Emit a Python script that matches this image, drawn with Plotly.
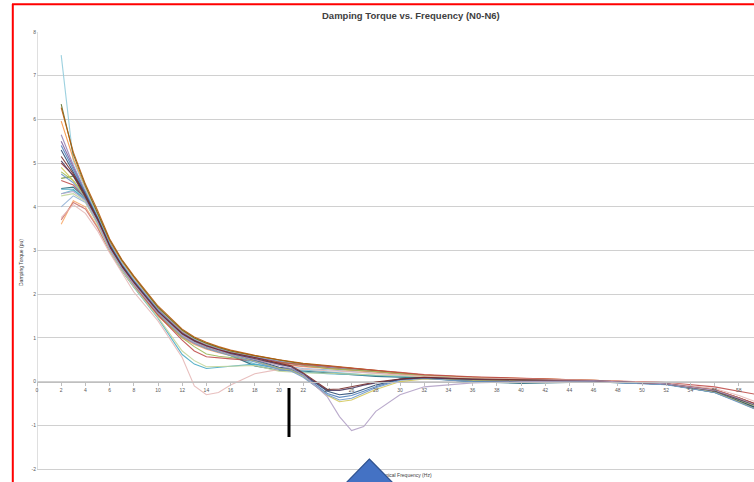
import plotly.graph_objects as go

# Frequency points (Hz) shared by every curve
freq = [2, 3, 4, 5, 6, 7, 8, 10, 12, 13, 14, 15, 16, 18, 20, 21, 22, 24, 25, 26,
        27, 28, 30, 32, 36, 40, 46, 52, 56, 58, 60]

# Damping torque (pu) per case, with its line colour
cases = [
    ("#95B3D7", [4.0, 4.25, 4.1, 3.62, 3.03, 2.6, 2.22, 1.56, 1.06, 0.9, 0.78, 0.69, 0.62, 0.5, 0.38, 0.34, 0.3, 0.27, 0.25, 0.23, 0.21, 0.19, 0.15, 0.11, 0.05, 0.02, 0.01, -0.06, -0.23, -0.44, -0.66]),
    ("#6FBDD1", [4.3, 4.38, 4.18, 3.68, 3.08, 2.64, 2.26, 1.6, 1.1, 0.94, 0.82, 0.72, 0.62, 0.4, 0.3, 0.29, 0.27, 0.22, 0.2, 0.18, 0.16, 0.14, 0.12, 0.09, 0.02, -0.02, 0.0, -0.06, -0.24, -0.45, -0.68]),
    ("#276A7C", [4.42, 4.45, 4.2, 3.7, 3.1, 2.65, 2.27, 1.6, 1.1, 0.93, 0.8, 0.7, 0.6, 0.36, 0.26, 0.26, 0.24, 0.2, 0.18, 0.16, 0.14, 0.12, 0.1, 0.08, 0.0, -0.04, -0.01, -0.06, -0.25, -0.46, -0.7]),
    ("#76923C", [4.65, 4.7, 4.35, 3.8, 3.17, 2.7, 2.32, 1.65, 1.14, 0.97, 0.85, 0.76, 0.68, 0.57, 0.47, 0.43, 0.39, 0.35, 0.32, 0.3, 0.27, 0.25, 0.19, 0.14, 0.09, 0.06, 0.02, -0.05, -0.21, -0.41, -0.63]),
    ("#953735", [5.0, 4.72, 4.26, 3.72, 3.1, 2.66, 2.28, 1.62, 1.1, 0.94, 0.82, 0.73, 0.66, 0.55, 0.45, 0.41, 0.38, 0.33, 0.3, 0.28, 0.25, 0.23, 0.18, 0.13, 0.08, 0.05, 0.02, -0.05, -0.19, -0.37, -0.58]),
    ("#8064A2", [5.5, 4.9, 4.32, 3.78, 3.16, 2.7, 2.32, 1.64, 1.12, 0.95, 0.83, 0.74, 0.66, 0.56, 0.46, 0.42, 0.38, 0.34, 0.31, 0.28, 0.26, 0.24, 0.18, 0.13, 0.08, 0.05, 0.01, -0.06, -0.22, -0.43, -0.66]),
    ("#9983B5", [5.65, 4.95, 4.35, 3.8, 3.18, 2.72, 2.33, 1.66, 1.14, 0.97, 0.85, 0.76, 0.68, 0.57, 0.47, 0.43, 0.39, 0.34, 0.31, 0.28, 0.26, 0.24, 0.18, 0.13, 0.08, 0.05, 0.01, -0.06, -0.22, -0.42, -0.65]),
    ("#93CDDD", [7.47, 5.05, 4.4, 3.8, 3.15, 2.72, 2.35, 1.68, 1.16, 0.98, 0.86, 0.77, 0.69, 0.58, 0.48, 0.44, 0.4, 0.35, 0.32, 0.29, 0.27, 0.25, 0.19, 0.14, 0.09, 0.06, 0.02, -0.05, -0.2, -0.38, -0.6]),
    ("#F79646", [5.96, 5.1, 4.45, 3.86, 3.22, 2.76, 2.38, 1.7, 1.17, 1.0, 0.87, 0.78, 0.7, 0.59, 0.49, 0.45, 0.41, 0.36, 0.33, 0.3, 0.28, 0.25, 0.2, 0.15, 0.1, 0.07, 0.03, -0.04, -0.2, -0.4, -0.62]),
    ("#5F7530", [6.35, 5.2, 4.48, 3.88, 3.24, 2.78, 2.4, 1.7, 1.18, 1.0, 0.88, 0.78, 0.7, 0.59, 0.49, 0.45, 0.41, 0.36, 0.33, 0.3, 0.27, 0.25, 0.19, 0.14, 0.09, 0.06, 0.02, -0.05, -0.22, -0.42, -0.66]),
    ("#B65708", [6.27, 5.25, 4.52, 3.92, 3.27, 2.8, 2.42, 1.73, 1.2, 1.02, 0.9, 0.8, 0.72, 0.6, 0.5, 0.46, 0.42, 0.37, 0.34, 0.31, 0.28, 0.26, 0.2, 0.15, 0.1, 0.07, 0.03, -0.04, -0.19, -0.37, -0.58]),
    ("#F9AB6B", [3.6, 4.14, 4.0, 3.55, 3.0, 2.56, 2.18, 1.5, 1.0, 0.85, 0.74, 0.66, 0.6, 0.5, 0.4, 0.37, 0.34, 0.3, 0.28, 0.26, 0.24, 0.22, 0.17, 0.13, 0.08, 0.05, 0.02, -0.05, -0.2, -0.4, -0.62]),
    ("#CD7371", [3.7, 4.1, 3.95, 3.52, 2.98, 2.54, 2.17, 1.52, 1.02, 0.87, 0.76, 0.68, 0.62, 0.52, 0.42, 0.38, 0.35, 0.31, 0.29, 0.27, 0.25, 0.23, 0.18, 0.14, 0.08, 0.05, 0.02, -0.04, -0.18, -0.36, -0.56]),
    ("#9BBB59", [4.8, 4.6, 4.25, 3.7, 3.08, 2.62, 2.24, 1.55, 1.0, 0.8, 0.63, 0.58, 0.55, 0.5, 0.44, 0.41, 0.38, 0.3, 0.28, 0.27, 0.25, 0.23, 0.18, 0.14, 0.08, 0.05, 0.02, -0.05, -0.2, -0.4, -0.62]),
    ("#C0504D", [4.6, 4.5, 4.2, 3.68, 3.06, 2.6, 2.22, 1.52, 0.95, 0.7, 0.57, 0.54, 0.52, 0.48, 0.43, 0.41, 0.39, 0.35, 0.33, 0.3, 0.28, 0.26, 0.21, 0.16, 0.11, 0.08, 0.04, -0.02, -0.12, -0.22, -0.32]),
    ("#4BACC6", [4.4, 4.4, 4.15, 3.62, 3.02, 2.55, 2.16, 1.45, 0.62, 0.4, 0.3, 0.32, 0.35, 0.4, 0.3, 0.27, 0.22, 0.18, 0.17, 0.16, 0.15, 0.14, 0.12, 0.1, 0.04, 0.0, 0.01, -0.06, -0.24, -0.45, -0.68]),
    ("#C3D69B", [4.25, 4.3, 4.12, 3.6, 3.0, 2.55, 2.17, 1.47, 0.7, 0.48, 0.34, 0.34, 0.35, 0.37, 0.24, 0.22, 0.2, 0.19, 0.18, 0.18, 0.17, 0.16, 0.14, 0.11, 0.06, 0.03, 0.02, -0.05, -0.22, -0.42, -0.64]),
    ("#E6B9B8", [3.75, 4.05, 3.85, 3.45, 2.95, 2.5, 2.05, 1.39, 0.55, -0.1, -0.3, -0.25, -0.08, 0.18, 0.28, 0.3, 0.28, 0.25, 0.24, 0.22, 0.2, 0.19, 0.15, 0.12, 0.08, 0.06, 0.03, -0.03, -0.16, -0.32, -0.52]),
    ("#4F81BD", [5.4, 4.85, 4.3, 3.76, 3.14, 2.68, 2.3, 1.62, 1.1, 0.93, 0.8, 0.7, 0.62, 0.48, 0.3, 0.27, 0.14, -0.27, -0.36, -0.32, -0.22, -0.12, 0.05, 0.08, 0.01, -0.01, 0.0, -0.06, -0.24, -0.45, -0.68]),
    ("#2C4D75", [5.3, 4.8, 4.28, 3.74, 3.12, 2.66, 2.28, 1.6, 1.08, 0.92, 0.8, 0.71, 0.63, 0.5, 0.33, 0.3, 0.16, -0.22, -0.3, -0.27, -0.17, -0.08, 0.06, 0.09, 0.02, 0.0, 0.01, -0.06, -0.23, -0.44, -0.66]),
    ("#D4C85A", [4.9, 4.6, 4.2, 3.68, 3.07, 2.62, 2.25, 1.58, 1.06, 0.9, 0.78, 0.69, 0.6, 0.46, 0.3, 0.26, 0.12, -0.32, -0.46, -0.42, -0.3, -0.18, 0.0, 0.06, 0.03, 0.02, 0.01, -0.06, -0.24, -0.46, -0.7]),
    ("#729ACA", [4.75, 4.55, 4.18, 3.66, 3.05, 2.6, 2.24, 1.56, 1.04, 0.88, 0.76, 0.67, 0.59, 0.45, 0.28, 0.24, 0.1, -0.3, -0.42, -0.38, -0.26, -0.14, 0.03, 0.07, 0.0, -0.02, 0.0, -0.07, -0.25, -0.47, -0.7]),
    ("#4D3B62", [5.05, 4.7, 4.22, 3.7, 3.08, 2.63, 2.26, 1.58, 1.08, 0.92, 0.8, 0.71, 0.64, 0.53, 0.4, 0.34, 0.18, -0.2, -0.2, -0.15, -0.08, -0.03, 0.05, 0.09, 0.05, 0.03, 0.02, -0.05, -0.21, -0.4, -0.6]),
    ("#772C2A", [5.15, 4.75, 4.25, 3.72, 3.1, 2.65, 2.27, 1.6, 1.1, 0.94, 0.82, 0.73, 0.66, 0.55, 0.42, 0.36, 0.2, -0.18, -0.17, -0.12, -0.06, -0.01, 0.06, 0.1, 0.06, 0.04, 0.02, -0.05, -0.2, -0.38, -0.58]),
    ("#B3A2C7", [4.3, 4.35, 4.15, 3.65, 3.04, 2.6, 2.23, 1.57, 1.06, 0.9, 0.79, 0.7, 0.62, 0.5, 0.36, 0.3, 0.16, -0.35, -0.8, -1.12, -1.03, -0.68, -0.3, -0.12, -0.03, 0.0, 0.02, -0.05, -0.2, -0.38, -0.6]),
]

x_ticks = list(range(0, 60, 2))
y_ticks = list(range(-2, 9))

# Canvas geometry: value 8 sits at y=32 px and -2 at y=469 px; the axes run on
# to the bottom edge so the horizontal caption can live inside the plot layer.
W, H = 754, 482
ML, MR, MT, MB = 37, 0, 32, 0
PW, PH = W - ML - MR, H - MT - MB
PX_PER_UNIT_X = 12.1
PX_PER_UNIT_Y = (469 - MT) / 10
X_MAX = PW / PX_PER_UNIT_X
Y_TOP = 8
Y_LOW = Y_TOP - PH / PX_PER_UNIT_Y
GRID_MIN = -2


def px_x(px):
    return (px - ML) / PW


def px_y(py):
    return (H - MB - py) / PH


def data_x(px):
    return (px - ML) / PX_PER_UNIT_X


def data_y(py):
    return Y_TOP - (py - MT) / PX_PER_UNIT_Y


fig = go.Figure()
for color, vals in cases:
    fig.add_trace(go.Scatter(x=freq, y=vals, mode="lines",
                             line=dict(color=color, width=1.1),
                             opacity=0.9, hoverinfo="skip"))

# Horizontal axis caption, drawn as trace text so the arrow shape can sit on top of it
fig.add_trace(go.Scatter(
    x=[data_x(401)], y=[data_y(476)],
    mode="text", text=["Mechanical Frequency (Hz)"],
    textfont=dict(family="Liberation Sans", size=5, color="#404040"),
    cliponaxis=False, hoverinfo="skip"))

tick_font = dict(family="Liberation Sans", size=5, color="#595959")

fig.update_layout(
    width=W, height=H,
    margin=dict(l=ML, r=MR, t=MT, b=MB, autoexpand=False),
    paper_bgcolor="white", plot_bgcolor="white",
    showlegend=False,
    xaxis=dict(range=[0, X_MAX], tickvals=x_ticks, ticktext=[str(v) for v in x_ticks],
               anchor="free", position=(0 - Y_LOW) / (Y_TOP - Y_LOW),
               showgrid=False, zeroline=False, showline=True, linecolor="#BFBFBF",
               linewidth=1, ticks="outside", ticklen=3, tickcolor="#BFBFBF",
               tickfont=tick_font),
    yaxis=dict(range=[Y_LOW, Y_TOP],
               tickvals=y_ticks, ticktext=[str(v) for v in y_ticks],
               showgrid=True, gridcolor="#D0D0D0", gridwidth=1, zeroline=False,
               showline=False, ticks="", tickfont=tick_font),
    annotations=[
        dict(text="<b>Damping Torque vs. Frequency (N0-N6)</b>", xref="paper", yref="paper",
             x=px_x(411), y=px_y(15), showarrow=False, xanchor="center", yanchor="middle",
             font=dict(family="Liberation Sans", size=9.5, color="#404040")),
        dict(text="Damping Torque (pu)", xref="paper", yref="paper",
             x=px_x(21), y=px_y(263), showarrow=False, textangle=-90,
             xanchor="center", yanchor="middle",
             font=dict(family="Liberation Sans", size=5, color="#404040")),
    ],
)

# Vertical axis line spanning the gridded range only
fig.add_shape(type="line", xref="x", yref="y", layer="below",
              x0=0, x1=0, y0=GRID_MIN, y1=Y_TOP,
              line=dict(color="#BFBFBF", width=1))

# Red frame around the chart area
fig.add_shape(type="line", xref="paper", yref="paper", layer="above",
              x0=px_x(12), x1=px_x(760), y0=px_y(4.3), y1=px_y(4.3),
              line=dict(color="#FF0000", width=2))
fig.add_shape(type="line", xref="paper", yref="paper", layer="above",
              x0=px_x(12.8), x1=px_x(12.8), y0=px_y(4), y1=px_y(490),
              line=dict(color="#FF0000", width=2))

# Black marker bar
fig.add_shape(type="line", xref="paper", yref="paper", layer="above",
              x0=px_x(289), x1=px_x(289), y0=px_y(388), y1=px_y(437),
              line=dict(color="black", width=3))

# Blue arrow head pointing up
tri = [(369.3, 459), (395, 485), (344, 485)]
path = "M " + " L ".join(f"{px_x(a):.5f},{px_y(b):.5f}" for a, b in tri) + " Z"
fig.add_shape(type="path", xref="paper", yref="paper", layer="above", path=path,
              fillcolor="#4472C4", line=dict(color="#2F528F", width=1.2))

fig.write_html("out.html")
